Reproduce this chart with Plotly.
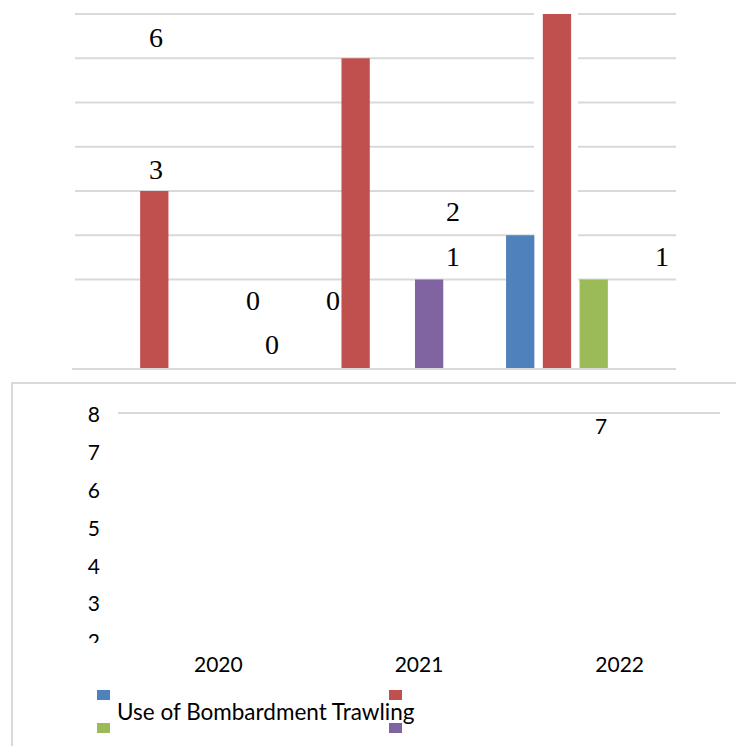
import plotly.graph_objects as go

W, H = 736, 746

years = ["2020", "2021", "2022"]
series_names = ["Series 1", "Series 2", "Series 3", "Series 4"]
colors = ["#4f81bd", "#c0504d", "#9bbb59", "#8064a2"]
# bar heights as drawn in the (upper) plot area
blue_vals = [0, 0, 3]
red_vals = [4, 7, 8]
green_vals = [0, 0, 2]
purple_vals = [0, 2, 0]
grid_ticks = [2, 3, 4, 5, 6, 7, 8]
lower_ticks = [2, 3, 4, 5, 6, 7, 8]
legend_text = "Use of Bombardment Trawling"

# stray data labels (text, pixel position)
top_labels = ["6", "3", "0", "0", "0", "2", "1", "1"]
top_label_pos = [(156, 37), (156, 169), (253, 301), (272, 344), (333, 301),
                 (453, 212), (453, 256), (662, 256)]
lower_label = "7"
lower_label_pos = (601, 425)


def px(x, y):
    return x / W, 1 - y / H


fig = go.Figure()
for name, vals, col in zip(series_names, [blue_vals, red_vals, green_vals, purple_vals], colors):
    fig.add_trace(go.Bar(x=years, y=vals, name=name, marker_color=col,
                         marker_line_width=0, showlegend=False, xaxis="x", yaxis="y"))

# placeholder trace so the lower (broken) axis frame is drawn
fig.add_trace(go.Scatter(x=years, y=[None, None, None], xaxis="x2", yaxis="y2",
                         showlegend=False, hoverinfo="skip"))

grid_col = "#d9d9d9"
unit_top = (368 - 14) / 8.0
unit_low = (642 - 414.5) / 6.0
fig.update_layout(
    width=W, height=H, margin=dict(l=0, r=0, t=0, b=0, autoexpand=False),
    paper_bgcolor="white", plot_bgcolor="rgba(0,0,0,0)", showlegend=False,
    barmode="group", bargap=0.27, bargroupgap=0.23,
    xaxis=dict(domain=[72 / W, 676 / W], anchor="y", type="category",
               categoryorder="array", categoryarray=years, automargin=False,
               showticklabels=False, ticks="", showgrid=False,
               showline=True, linecolor=grid_col, linewidth=2),
    yaxis=dict(domain=[1 - 368 / H, 1 - (14 - 0.05 * unit_top) / H], anchor="x",
               range=[0, 8.05], tickvals=grid_ticks, showticklabels=False,
               showgrid=False, automargin=False, zeroline=False, showline=False),
    xaxis2=dict(domain=[118 / W, 720 / W], anchor="y2", type="category",
                categoryorder="array", categoryarray=years, range=[-0.5, 2.5],
                showgrid=False, showline=False, ticks="", zeroline=False, automargin=False,
                tickfont=dict(family="Lato", size=21, color="black"),
                ticklabelstandoff=4),
    yaxis2=dict(domain=[1 - 646 / H, 1 - 414.5 / H], anchor="x2",
                range=[8 - (646 - 414.5) / unit_low, 8], tickvals=lower_ticks,
                showgrid=False, showline=False, zeroline=False, ticks="", automargin=False,
                tickfont=dict(family="Lato", size=21, color="black"),
                ticklabelstandoff=17),
)

shapes = []
# outer border of the lower box
x0, y1 = px(12, 383)
shapes.append(dict(type="rect", xref="paper", yref="paper", x0=x0, x1=1.05, y0=-0.05, y1=y1,
                   line=dict(color=grid_col, width=2), fillcolor="rgba(0,0,0,0)", layer="below"))
# gridlines of the upper plot (drawn as shapes so they can be interrupted)
for v in grid_ticks:
    shapes.append(dict(type="line", xref="x domain", yref="y", x0=0.005, x1=1, y0=v, y1=v,
                       line=dict(color=grid_col, width=2), layer="below"))
# white halo around the tallest bar (gridlines interrupted in the original)
a0, b1 = px(534, 8)
a1, b0 = px(578, 366)
shapes.append(dict(type="rect", xref="paper", yref="paper", x0=a0, x1=a1, y0=b0, y1=b1,
                   line=dict(width=0), fillcolor="white", layer="below"))
# single gridline of the lower axis
shapes.append(dict(type="line", xref="x2 domain", yref="paper", x0=0, x1=1,
                   y0=1 - 413 / H, y1=1 - 413 / H,
                   line=dict(color=grid_col, width=2), layer="below"))
# clipped bottom of the lower axis labels
a0, b1 = px(60, 643)
a1, b0 = px(115, 652)
shapes.append(dict(type="rect", xref="paper", yref="paper", x0=a0, x1=a1, y0=b0, y1=b1,
                   line=dict(width=0), fillcolor="white", layer="above"))
# legend swatches
sw = [(97, 690), (389, 690), (97, 723), (389, 723)]
for (sx, sy), col in zip(sw, colors):
    a0, b1 = px(sx, sy)
    a1, b0 = px(sx + 13, sy + 10)
    shapes.append(dict(type="rect", xref="paper", yref="paper", x0=a0, x1=a1, y0=b0, y1=b1,
                       line=dict(width=0), fillcolor=col))
fig.update_layout(shapes=shapes)

ann = []
for t, (ax, ay) in zip(top_labels, top_label_pos):
    xx, yy = px(ax, ay)
    ann.append(dict(text=t, x=xx, y=yy, xref="paper", yref="paper", showarrow=False,
                    xanchor="center", yanchor="middle",
                    font=dict(family="Liberation Serif", size=28, color="black")))
xx, yy = px(*lower_label_pos)
ann.append(dict(text=lower_label, x=xx, y=yy, xref="paper", yref="paper", showarrow=False,
                xanchor="center", yanchor="middle",
                font=dict(family="Lato", size=21, color="black")))
xx, yy = px(115, 711)
ann.append(dict(text=legend_text, x=xx, y=yy, xref="paper", yref="paper", showarrow=False,
                xanchor="left", yanchor="middle",
                font=dict(family="Lato", size=22.5, color="black")))
fig.update_layout(annotations=ann)

fig.write_html("out.html")
